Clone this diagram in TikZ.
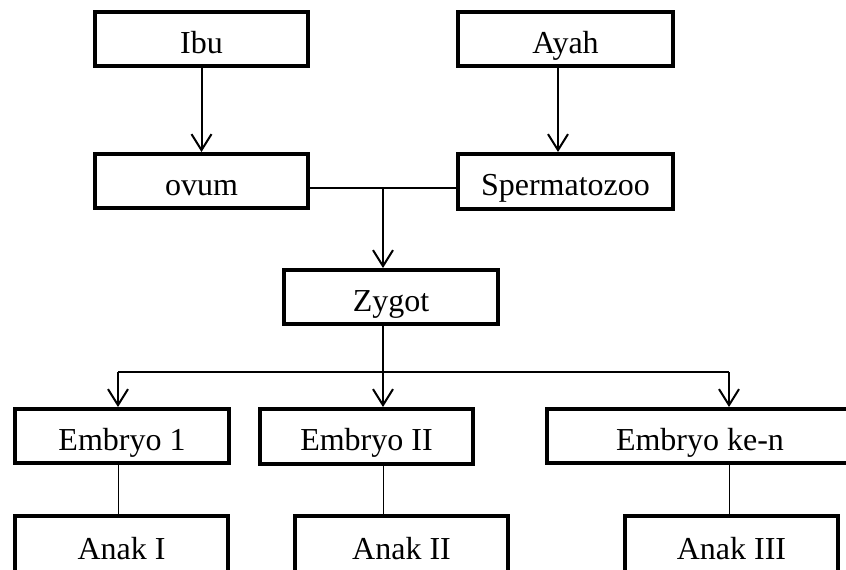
\documentclass[tikz,border=0pt]{standalone}
\usepackage{fontspec}
\setmainfont{Liberation Serif}
\usepackage{tikz}
\usetikzlibrary{arrows.meta}

\tikzset{
    box/.style={shape=rectangle,draw=black,line width=2pt,minimum width=106.5pt,minimum height=27pt,inner sep=0pt,text height=14pt,text depth=0pt,font=\fontsize{16}{18}\selectfont},
    arr/.style={line width=1pt,-{Straight Barb[length=8pt,width=10pt,line width=1pt]}},
    link/.style={line width=1pt},
    thin/.style={line width=0.5pt}
}

\begin{document}
\begin{tikzpicture}[x=0.5pt,y=-0.5pt]
    \useasboundingbox (0,0) rectangle (846,569);
    \clip (0,0) rectangle (846,569);
    \node[box] (ibu) at (201.5,39) {Ibu};
    \node[box,minimum width=107.5pt] (ayah) at (565.5,39) {Ayah};
    \node[box] (ovum) at (201.5,181) {ovum};
    \node[box,minimum width=107.5pt,minimum height=27.5pt] (sperma) at (565.5,181.5) {Spermatozoo};
    \node[box,minimum width=107pt] (zygot) at (391,297) {Zygot};
    \node[box,minimum width=107pt] (embryo1) at (122,436) {Embryo 1};
    \node[box,minimum height=27.5pt] (embryo2) at (366.5,436.5) {Embryo II};
    \node[box,minimum width=153pt] (embryon) at (700,436) {Embryo ke-n};
    \node[box,minimum height=29pt] (anak1) at (121.5,545) {Anak I};
    \node[box,minimum height=29pt] (anak2) at (401.5,545) {Anak II};
    \node[box,minimum height=29pt] (anak3) at (731.5,545) {Anak III};
    \coordinate (join) at (383,188);
    \coordinate (split) at (383,372);
    \coordinate (b1) at (118,372);
    \coordinate (b3) at (729,372);
    \draw[arr] (ibu.south) -- (ovum.north);
    \draw[arr] ([xshift=-3.75pt]ayah.south) -- ([xshift=-3.75pt]sperma.north);
    \draw[link] (ovum.east |- join) -- (sperma.west |- join);
    \draw[arr] (join) -- (join |- zygot.north);
    \draw[link] (split |- zygot.south) -- (split);
    \draw[link] (b1) -- (b3);
    \draw[arr] (b1) -- (b1 |- embryo1.north);
    \draw[arr] (split) -- (split |- embryo2.north);
    \draw[arr] (b3) -- (b3 |- embryon.north);
    \draw[thin] (b1 |- embryo1.south) -- (b1 |- anak1.north);
    \draw[thin] (split |- embryo2.south) -- (split |- anak2.north);
    \draw[thin] (b3 |- embryon.south) -- (b3 |- anak3.north);
\end{tikzpicture}
\end{document}
